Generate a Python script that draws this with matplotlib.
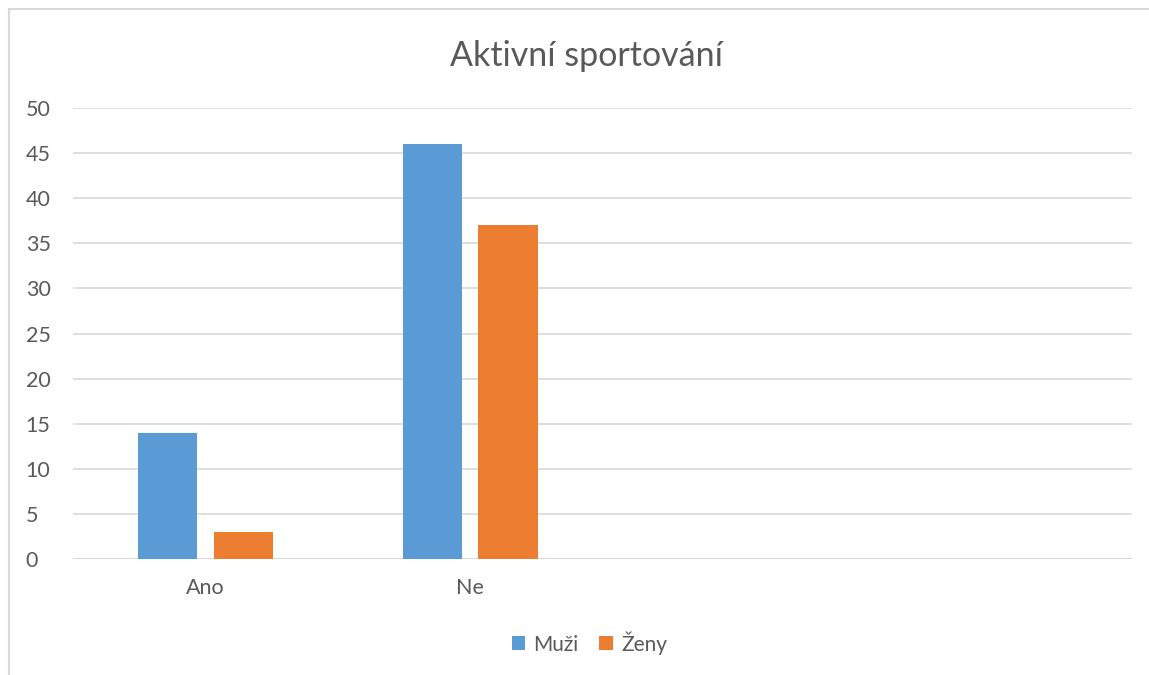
import numpy as np
import matplotlib.pyplot as plt
from matplotlib.patches import Rectangle

# Data
kategorie = ['Ano', 'Ne', '', '']
muzi = [14, 46]
zeny = [3, 37]
y_ticks = list(range(0, 55, 5))

plt.rcParams['font.family'] = ['Lato', 'DejaVu Sans']

fig = plt.figure(figsize=(11.49, 6.75), dpi=100)
ax = fig.add_axes([73 / 1149, 1 - 559 / 675, (1132 - 73) / 1149, (559 - 108) / 675])

# Chart border (only top and left edges are inside the image)
fig.patches.append(Rectangle((8.5 / 1149, -0.1), 1.2, 1 - 8.5 / 675 + 0.1,
                             transform=fig.transFigure, fill=False,
                             edgecolor='#D9D9D9', linewidth=1.5))

x = np.arange(len(kategorie))
w = 0.224
off = 0.143
ax.bar(x[:len(muzi)] - off, muzi, width=w, color='#5B9BD5', label='Muži', zorder=3)
ax.bar(x[:len(zeny)] + off, zeny, width=w, color='#ED7D31', label='Ženy', zorder=3)

ax.set_xlim(-0.5, len(kategorie) - 0.5)
ax.set_ylim(0, 50)
ax.set_yticks(y_ticks)
ax.set_xticks(x)
ax.set_xticklabels(kategorie)
ax.grid(axis='y', color='#D9D9D9', linewidth=1.2, zorder=0)
for s in ax.spines.values():
    s.set_visible(False)
ax.axhline(0, color='#D9D9D9', linewidth=1.5, zorder=2)
ax.tick_params(length=0, labelsize=15.5, colors='#595959')
ax.tick_params(axis='y', pad=34)
ax.tick_params(axis='x', pad=14)
for lab in ax.get_yticklabels():
    lab.set_horizontalalignment('left')

fig.text(0.5 + 12 / 1149, 1 - 56 / 675, 'Aktivní sportování', ha='center', va='center',
         fontsize=24.5, color='#595959')

fig.legend(loc='center', bbox_to_anchor=(0.513, 1 - 643 / 675), ncol=2,
           frameon=False, fontsize=15, labelcolor='#595959',
           handlelength=0.65, handleheight=0.65, handletextpad=0.4,
           columnspacing=1.0)

fig.savefig('out.png', dpi=100)
